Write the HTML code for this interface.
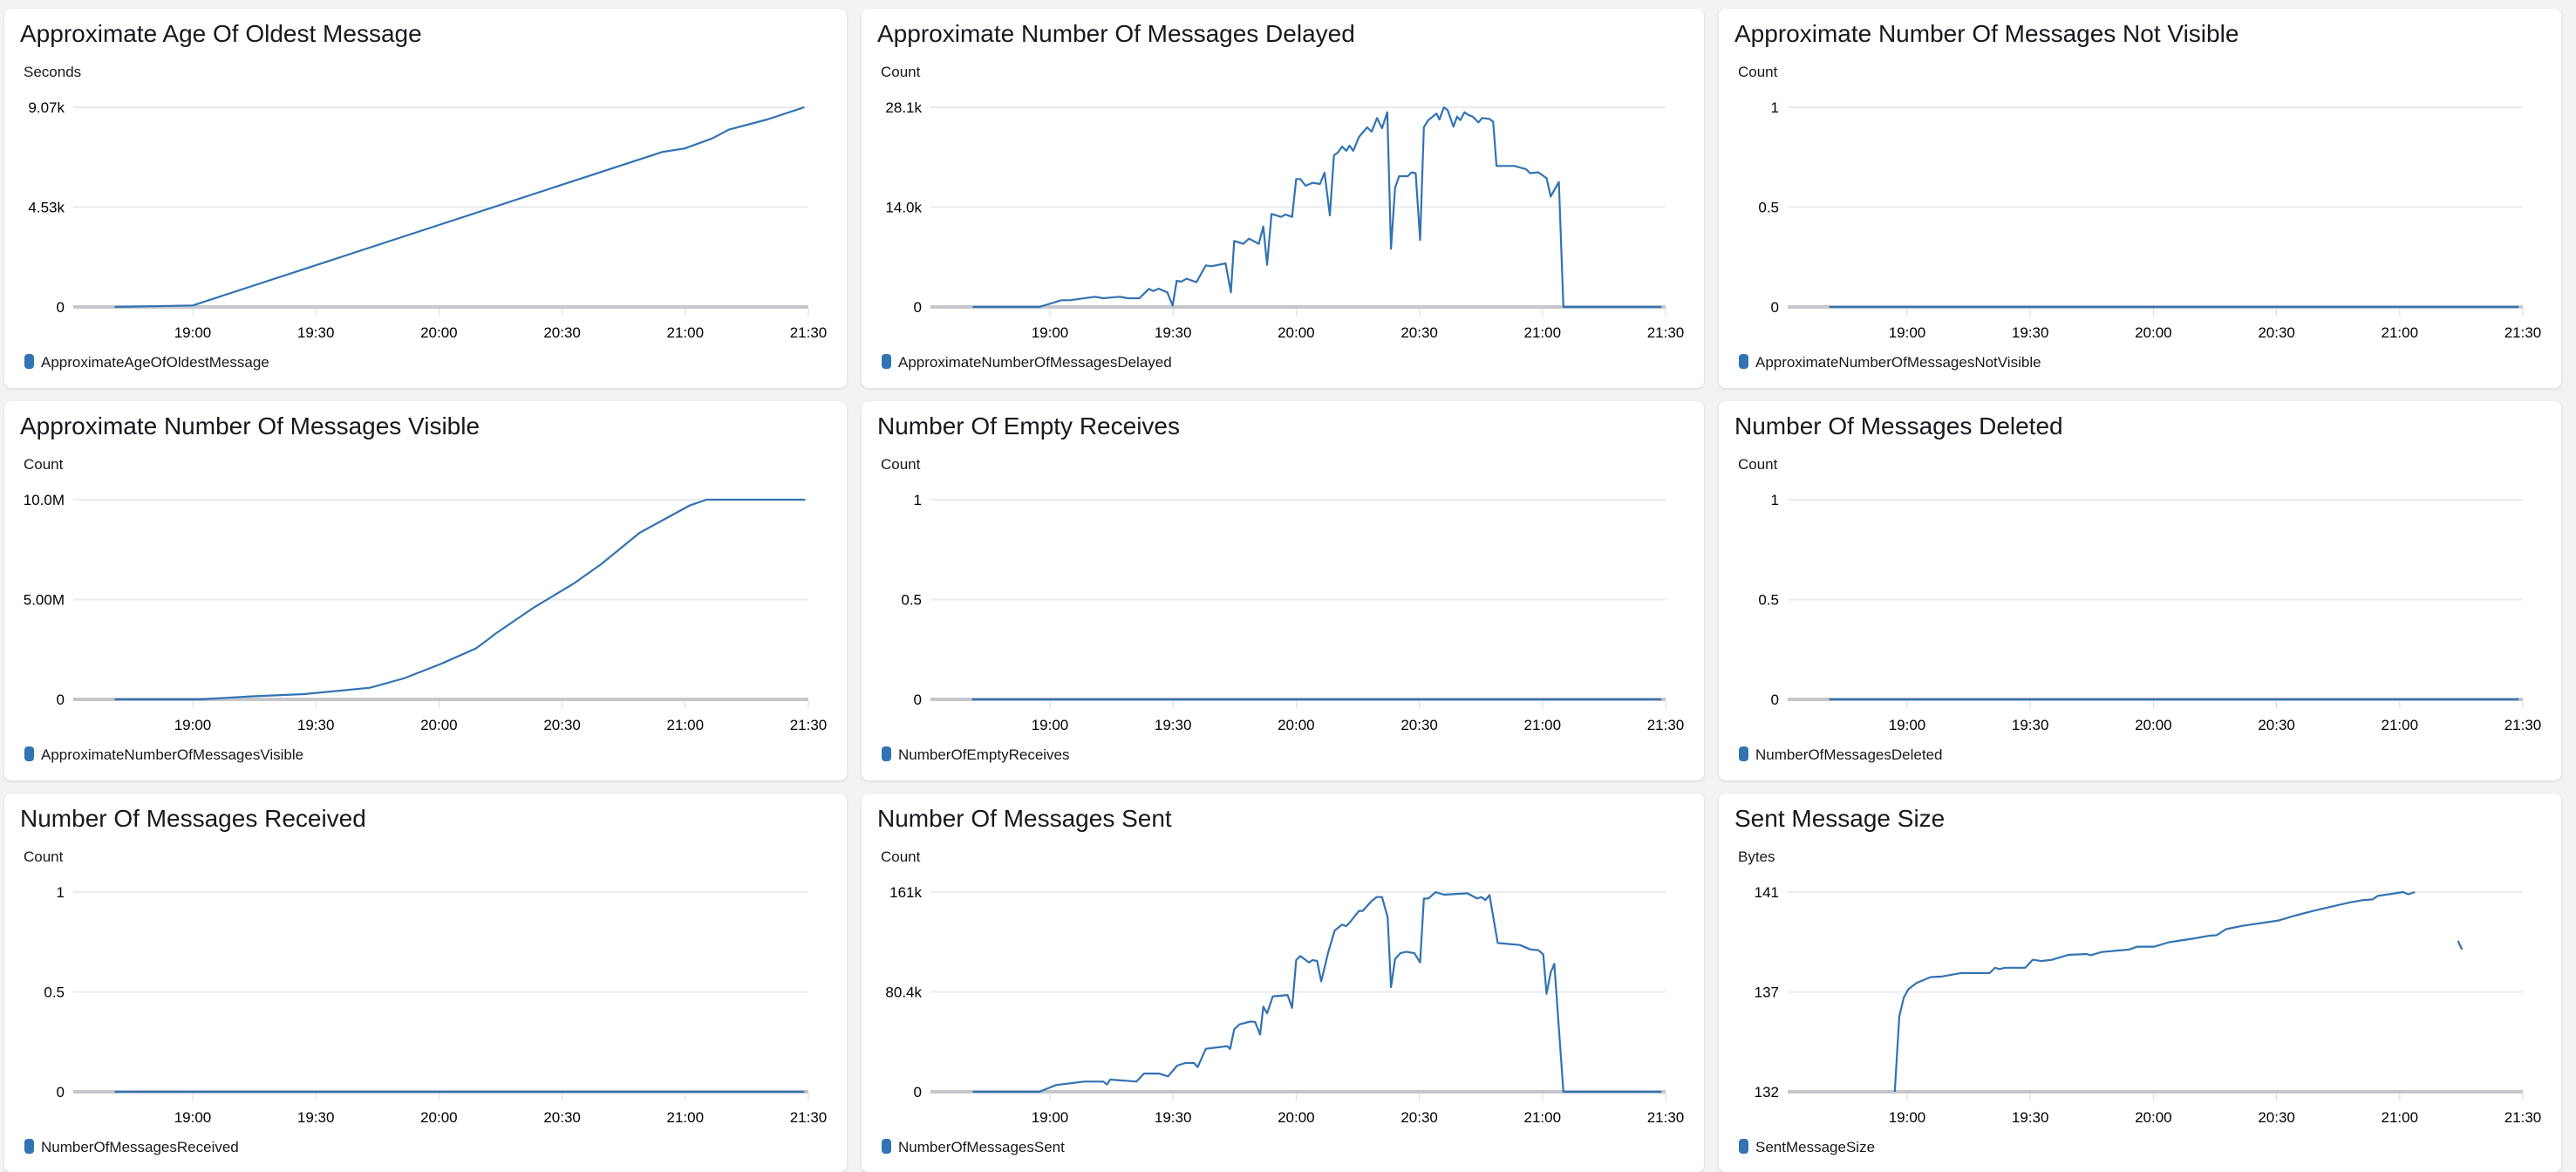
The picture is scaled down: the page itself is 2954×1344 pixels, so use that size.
<!DOCTYPE html>
<html><head><meta charset="utf-8">
<style>
html,body{margin:0;padding:0;background:#f2f3f3;}
body{width:2954px;height:1344px;position:relative;overflow:hidden;font-family:"Liberation Sans",sans-serif;}
.panel{position:absolute;width:966px;background:#fff;border-radius:8px;box-shadow:0 1px 3px rgba(0,0,0,0.12);overflow:hidden;}
.panel svg{position:absolute;left:0;top:0;}
</style></head>
<body>
<div id="root"></div>
<script>
// time in minutes after 18:00
const xTicks=[60,90,120,150,180,210];
const xTickLabels=["19:00","19:30","20:00","20:30","21:00","21:30"];

const ageT=[41,60,174.4,179.8,186.6,190.6,200,209];
const ageV=[0,66,7037,7195,7657,8053,8515,9070];

const delayedT=[41.2,57.4,62.8,64.9,71,73,77,79,81.8,84.1,85.2,86.5,88.6,89.9,90.9,92,93.3,95.7,98,99.4,102.8,104.1,104.9,107.1,108.5,110.9,112,112.9,114,116.3,117.4,119,120,121,122.3,124,125.8,126.9,128.2,129.2,130.1,131.2,132.2,133,133.9,135.3,137.3,138.4,139.7,140.9,142.2,143.1,144.1,145.1,147.2,148.1,149.1,150.2,151.1,152.2,154.2,154.9,156,156.9,158.3,159.2,160,161,162,163,164.4,165.3,167.1,168,168.8,173.2,175.2,175.9,177,179,180.6,181,182,184,185.1,209];
const delayedV=[0,0,0.94,0.94,1.43,1.23,1.43,1.23,1.23,2.54,2.25,2.58,2.05,0.2,3.68,3.56,3.97,3.48,5.85,5.73,6.14,2.05,9.29,8.88,9.61,8.88,11.33,5.93,13.09,12.68,13.01,12.68,18.0,18.0,17.06,17.47,17.3,18.9,12.88,21.35,21.68,22.58,21.96,22.7,21.96,23.93,25.28,24.66,26.59,25.15,27.4,8.18,16.77,18.4,18.4,18.94,18.82,9.41,25.28,26.3,27.2,26.38,28.1,27.69,25.36,26.79,26.3,27.4,26.99,26.79,25.97,26.59,26.46,26.05,19.84,19.84,19.51,19.43,18.82,18.94,18.28,18.12,15.54,17.59,0,0];

const flatT=[41,209];
const flatV=[0,0];

const visibleT=[41,61.9,74.1,87,103.2,111.4,120.2,129,132,133.7,143.2,152.7,159.5,168.9,181.1,185.2,209.2];
const visibleV=[0,0,0.15,0.26,0.58,1.05,1.75,2.55,3.01,3.28,4.61,5.78,6.77,8.34,9.71,10,10];

const sentT=[41.2,57.4,61.5,68.3,73,73.9,74.7,81.1,82.9,86.5,88.8,91,93,95.1,96,98,103.2,103.9,104.9,106.2,108.9,110,111.2,112,112.9,114.3,117.9,119,120,121,123.1,124,125.1,126.1,127.8,129.4,131.2,132.2,133.2,135.3,136.2,138.4,139.6,140.9,142.3,143.1,144.1,145.4,146.8,148.8,150.2,151.1,152.2,154,156,161.7,164.1,165.1,166.1,167.1,169.1,174.5,177,179,180.2,181,182,182.9,185.1,209];
const sentV=[0,0,5.4,8.2,8.2,5.85,9.8,8.2,14.7,14.7,12.4,21.1,23.2,23.2,19.9,34.6,36.7,34.4,50.3,54.3,56.6,56.2,46.1,68.6,63.2,76.8,77.9,67.6,106,109.3,104.1,106,105.3,88.9,112.3,129.9,134.6,133.4,136.9,145.6,145.6,153.7,156.8,156.8,140.4,84.2,106.9,111.6,112.8,111.6,104.1,155.6,155.6,160.8,158.7,159.8,155.6,156.8,154.4,158.4,119.8,118.2,114.7,114.0,110.5,78.9,95.9,103,0,0];

const sizeT=[57,58.1,59.2,60.3,62.3,65.7,68.3,73.1,80.1,81.4,82.5,83.8,88.8,90.6,92.6,95.3,99.3,103.8,104.7,107.4,114.1,116.1,120.2,123.8,129.6,133.6,135.4,137.7,141.7,150.5,154.5,158.6,162.6,168,169.1,170.7,173.4,174.7,177.4,180.8,182.1,183.7];
const sizeV=[132,135.4,136.25,136.62,136.9,137.17,137.19,137.35,137.35,137.59,137.53,137.59,137.59,137.95,137.89,137.95,138.17,138.21,138.15,138.3,138.41,138.54,138.54,138.74,138.9,139.03,139.06,139.33,139.48,139.72,139.94,140.14,140.31,140.54,140.57,140.63,140.67,140.83,140.9,141,140.9,141];
const size2T=[194.2,195.2];
const size2V=[138.8,138.41];

const panels=[
 {name:"age",title:"Approximate Age Of Oldest Message",unit:"Seconds",legend:"ApproximateAgeOfOldestMessage",ymin:0,ymax:9070,yt:[0,4535,9070],yl:["0","4.53k","9.07k"],series:[[ageT,ageV]]},
 {name:"delayed",title:"Approximate Number Of Messages Delayed",unit:"Count",legend:"ApproximateNumberOfMessagesDelayed",ymin:0,ymax:28.1,yt:[0,14.05,28.1],yl:["0","14.0k","28.1k"],series:[[delayedT,delayedV]]},
 {name:"not-visible",title:"Approximate Number Of Messages Not Visible",unit:"Count",legend:"ApproximateNumberOfMessagesNotVisible",ymin:0,ymax:1,yt:[0,0.5,1],yl:["0","0.5","1"],series:[[flatT,flatV]]},
 {name:"visible",title:"Approximate Number Of Messages Visible",unit:"Count",legend:"ApproximateNumberOfMessagesVisible",ymin:0,ymax:10,yt:[0,5,10],yl:["0","5.00M","10.0M"],series:[[visibleT,visibleV]]},
 {name:"empty-receives",title:"Number Of Empty Receives",unit:"Count",legend:"NumberOfEmptyReceives",ymin:0,ymax:1,yt:[0,0.5,1],yl:["0","0.5","1"],series:[[flatT,flatV]]},
 {name:"deleted",title:"Number Of Messages Deleted",unit:"Count",legend:"NumberOfMessagesDeleted",ymin:0,ymax:1,yt:[0,0.5,1],yl:["0","0.5","1"],series:[[flatT,flatV]]},
 {name:"received",title:"Number Of Messages Received",unit:"Count",legend:"NumberOfMessagesReceived",ymin:0,ymax:1,yt:[0,0.5,1],yl:["0","0.5","1"],series:[[flatT,flatV]]},
 {name:"sent",title:"Number Of Messages Sent",unit:"Count",legend:"NumberOfMessagesSent",ymin:0,ymax:160.8,yt:[0,80.4,160.8],yl:["0","80.4k","161k"],series:[[sentT,sentV]]},
 {name:"size",title:"Sent Message Size",unit:"Bytes",legend:"SentMessageSize",ymin:132,ymax:141,yt:[132,136.5,141],yl:["132","137","141"],series:[[sizeT,sizeV],[size2T,size2V]]}
];

const colX=[5,988,1971], rowY=[10,460,910], rowH=[435,435,434];
const NS="http://www.w3.org/2000/svg";
const PL=79, PR=922, PT=113, PB=342, T0=30.9, T1=210;
function xs(t){return PL+(t-T0)/(T1-T0)*(PR-PL);}
function mk(tag,attrs,parent){const e=document.createElementNS(NS,tag);for(const k in attrs)e.setAttribute(k,attrs[k]);parent.appendChild(e);return e;}
const root=document.getElementById('root');
panels.forEach((p,i)=>{
 const c=i%3,r=Math.floor(i/3);
 const div=document.createElement('div');
 div.className='panel';
 
 
 div.style.left=colX[c]+'px';div.style.top=rowY[r]+'px';div.style.height=rowH[r]+'px';
 root.appendChild(div);
 const svg=mk('svg',{width:966,height:rowH[r]},div);
 const ys=v=>PB-(v-p.ymin)/(p.ymax-p.ymin)*(PB-PT);
 const tt=mk('text',{x:18,y:38,'font-size':28,fill:'#16191f'},svg);tt.textContent=p.title;
 
 
 const ut=mk('text',{x:22,y:78,'font-size':17,fill:'#16191f'},svg);ut.textContent=p.unit;
 
 
 p.yt.forEach((v,j)=>{
  const y=ys(v);
  if(j>0){const g=mk('line',{x1:PL,x2:PR,y1:y,y2:y,stroke:'#e9ebed','stroke-width':2},svg);
   
   }
  const l=mk('text',{x:69,y:y+6,'font-size':17,'text-anchor':'end',fill:'#000'},svg);l.textContent=p.yl[j];
  
  
 });
 const base=mk('line',{x1:PL,x2:PR,y1:PB,y2:PB,stroke:'#c6c6cd','stroke-width':4},svg);
 
 
 xTicks.forEach((t,j)=>{
  const x=xs(t);
  const tk=mk('line',{x1:x,x2:x,y1:PB+2,y2:PB+10,stroke:'#d5dbdb','stroke-width':1},svg);
  
  
  const l=mk('text',{x:x,y:PB+35,'font-size':17,'text-anchor':'middle',fill:'#000'},svg);l.textContent=xTickLabels[j];
  
  
 });
 p.series.forEach(s=>{
  const d=s[0].map((t,k)=>(k?'L':'M')+xs(t).toFixed(1)+','+ys(s[1][k]).toFixed(1)).join('');
  const pa=mk('path',{d:d,fill:'none',stroke:'#3273b2','stroke-width':2.2,'stroke-linejoin':'round'},svg);
  
  
 });
 const sw=mk('rect',{x:23,y:396,width:11,height:17,rx:4,fill:'#3273b2'},svg);
 
 
 const lt=mk('text',{x:42,y:411,'font-size':17,fill:'#16191f'},svg);lt.textContent=p.legend;
 
 
});
</script>
</body></html>
